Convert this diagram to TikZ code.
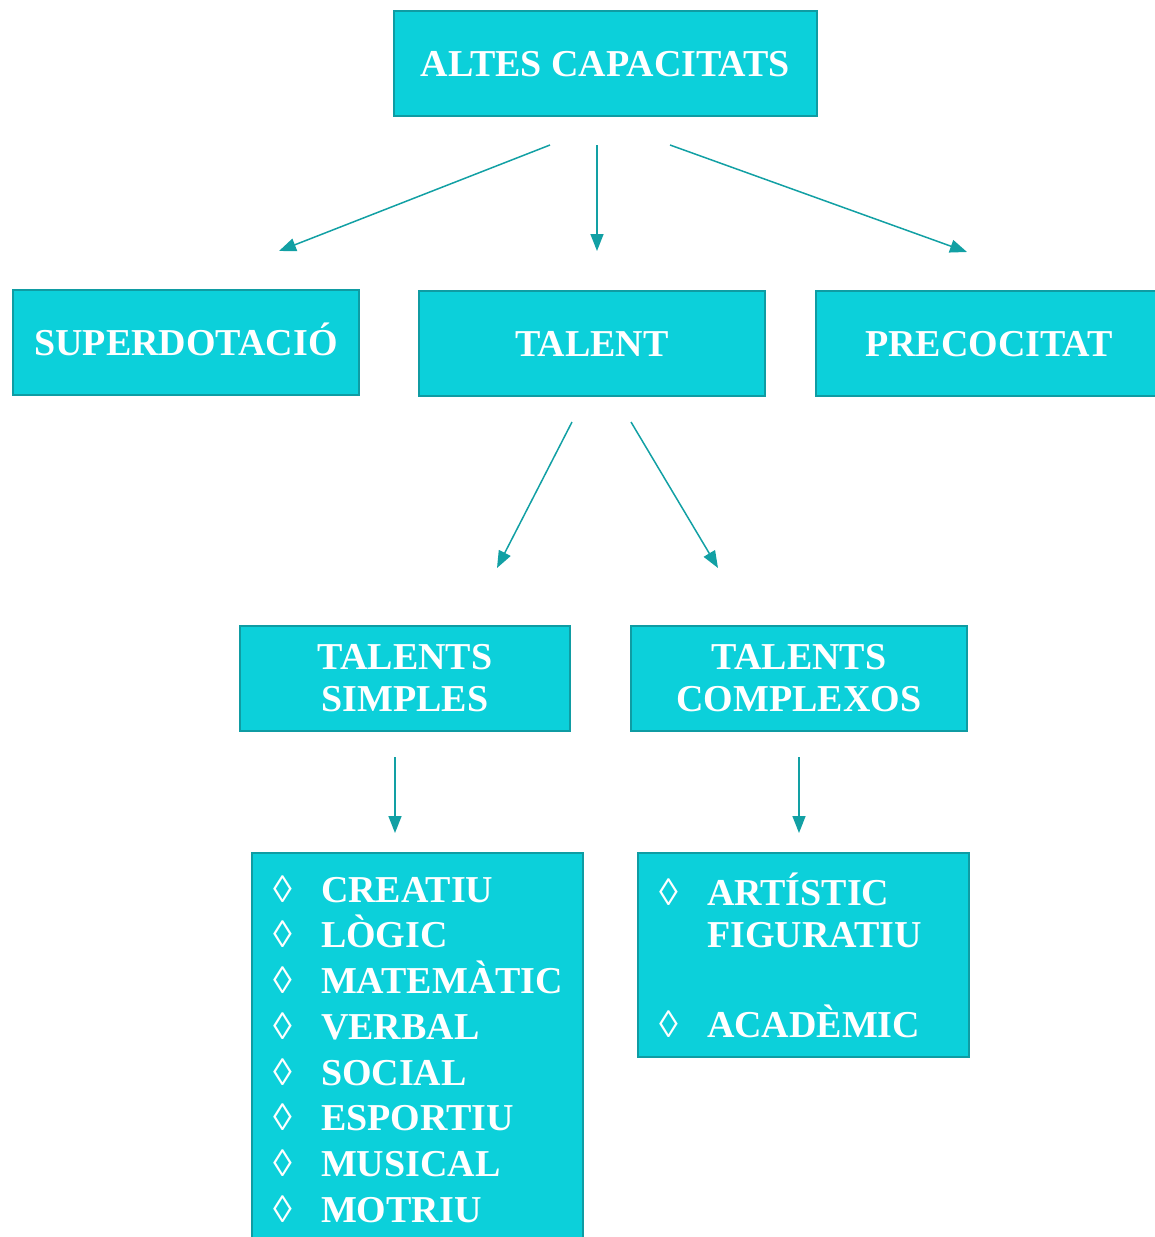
\documentclass[tikz,border=0pt]{standalone}
\usepackage{fontspec}
\setmainfont{Liberation Serif}
\usetikzlibrary{positioning,arrows.meta}

\definecolor{boxfill}{HTML}{0CD0DA}
\definecolor{boxline}{HTML}{0F9CA3}
\definecolor{arrowcol}{HTML}{12A0A4}
\tikzset{
    box/.style={draw=boxline,line width=1.4pt,fill=boxfill,text=white,
        font=\bfseries\fontsize{19}{21}\selectfont,align=center,
        inner sep=0pt,minimum height=52.5pt},
    oneline/.style={text height=12.6pt,text depth=0pt},
    listbox/.style={box,align=left,inner xsep=10.5pt,text width=144.5pt},
    link/.style={draw,color=arrowcol,line width=0.75pt,-{Triangle[length=8.5pt,width=6.5pt]}}
}
\newcommand{\itemmark}{\makebox[24pt][l]{\mdseries ◊}}

\begin{document}
\begin{tikzpicture}[x=0.5pt,y=-0.5pt]
    \useasboundingbox (0,0) rectangle (1155,1237);
    \node[box,oneline,minimum width=211.5pt] (altes) at (605.5,63.5) {ALTES CAPACITATS};
    \node[box,oneline,minimum width=173pt] (superdot) at (186,342.5) {SUPERDOTACIÓ};
    \node[box,oneline,minimum width=173pt] (talent) at (592,343.5) {TALENT};
    \node[box,oneline,minimum width=173pt] (precoc) at (989,343.5) {PRECOCITAT};
    \node[box,minimum width=165pt] (simples) at (405,678.5) {TALENTS\\SIMPLES};
    \node[box,minimum width=168pt] (complexos) at (799,678.5) {TALENTS\\COMPLEXOS};
    \node[listbox,minimum height=196pt,font=\bfseries\fontsize{19}{22.85}\selectfont]
        (llistasimples) at (417.5,1049)
        {\itemmark CREATIU\\ \itemmark LÒGIC\\ \itemmark MATEMÀTIC\\ \itemmark VERBAL\\
         \itemmark SOCIAL\\ \itemmark ESPORTIU\\ \itemmark MUSICAL\\ \itemmark MOTRIU};
    \node[listbox,minimum height=102pt] (llistacomplexos) at (803.5,955)
        {\itemmark ARTÍSTIC\\ \hspace*{24pt}FIGURATIU\\[24pt] \itemmark ACADÈMIC};

    % free ends of the arrows
    \coordinate (altes-l) at (550,145);
    \coordinate (altes-m) at (597,145);
    \coordinate (altes-r) at (670,145);
    \coordinate (superdot-in) at (279,251);
    \coordinate (talent-in) at (597,251);
    \coordinate (precoc-in) at (967,252);
    \coordinate (talent-l) at (572,422);
    \coordinate (talent-r) at (631,422);
    \coordinate (simples-in) at (497,568);
    \coordinate (complexos-in) at (718,568);
    \coordinate (simples-out) at (395,757);
    \coordinate (complexos-out) at (799,757);
    \coordinate (llistasimples-in) at (395,833);
    \coordinate (llistacomplexos-in) at (799,833);

    \path
    (altes-l)       edge [link] (superdot-in)
    (altes-m)       edge [link] (talent-in)
    (altes-r)       edge [link] (precoc-in)

    (talent-l)      edge [link] (simples-in)
    (talent-r)      edge [link] (complexos-in)

    (simples-out)   edge [link] (llistasimples-in)
    (complexos-out) edge [link] (llistacomplexos-in)
    ;
\end{tikzpicture}
\end{document}
